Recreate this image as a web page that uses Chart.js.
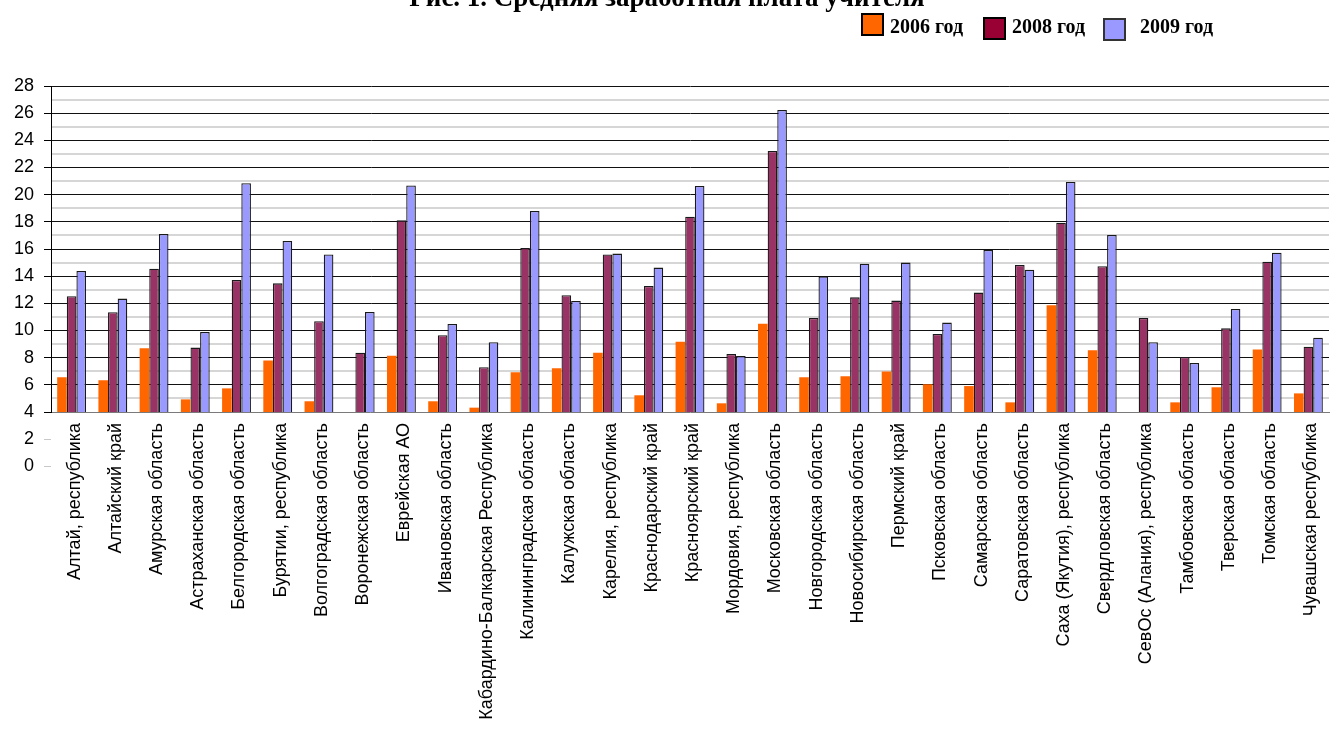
<!DOCTYPE html>
<html>
<head>
<meta charset="utf-8">
<script src="https://cdn.jsdelivr.net/npm/chart.js@4/dist/chart.umd.min.js"></script>
<style>
  html, body { margin: 0; padding: 0; background: #fff; overflow: hidden; }
  #wrap { position: relative; width: 1341px; height: 731px; }
</style>
</head>
<body>
<div id="wrap"><canvas id="c" width="1341" height="731"></canvas></div>
<script>
// Regions (categories)
const regions = [
  'Алтай, республика', 'Алтайский край', 'Амурская область', 'Астраханская область',
  'Белгородская область', 'Бурятии, республика', 'Волгоградская область', 'Воронежская область',
  'Еврейская АО', 'Ивановская область', 'Кабардино-Балкарская Республика', 'Калининградская область',
  'Калужская область', 'Карелия, республика', 'Краснодарский край', 'Красноярский край',
  'Мордовия, республика', 'Московская область', 'Новгородская область', 'Новосибирская область',
  'Пермский край', 'Псковская область', 'Самарская область', 'Саратовская область',
  'Саха (Якутия), республика', 'Свердловская область', 'СевОс (Алания), республика', 'Тамбовская область',
  'Тверская область', 'Томская область', 'Чувашская республика'
];

// Average teacher salary, thousand roubles
const salary2006 = [
  6.55, 6.33, 8.69, 4.93, 5.74, 7.80, 4.79, null, 8.15, 4.79, 4.32, 6.92,
  7.22, 8.37, 5.23, 9.18, 4.64, 10.50, 6.55, 6.63, 6.99, 6.04, 5.91, 4.71,
  11.85, 8.54, null, 4.71, 5.82, 8.61, 5.37
];
const salary2008 = [
  12.52, 11.34, 14.55, 8.74, 13.72, 13.47, 10.68, 8.37, 18.11, 9.65, 7.29, 16.08,
  12.59, 15.59, 13.28, 18.38, 8.27, 23.22, 10.92, 12.44, 12.20, 9.74, 12.79, 14.82,
  17.94, 14.73, 10.92, 8.05, 10.16, 15.07, 8.81
];
const salary2009 = [
  14.38, 12.35, 17.10, 9.89, 20.84, 16.59, 15.59, 11.36, 20.67, 10.48, 9.13, 18.80,
  12.17, 15.66, 14.63, 20.64, 8.12, 26.24, 13.97, 14.92, 15.00, 10.58, 15.93, 14.48,
  20.94, 17.03, 9.13, 7.61, 11.58, 15.73, 9.47
];

const seriesNames = ['2006 год', '2008 год', '2009 год'];
const yTickLabels = [0, 2, 4, 6, 8, 10, 12, 14, 16, 18, 20, 22, 24, 26, 28];
const chartTitle = 'Рис. 1. Средняя заработная плата учителя';

const barColors = ['#FF6600', '#993366', '#9999FF'];
const legendColors = ['#FF6600', '#990033', '#9999FF'];

// Title and legend drawn directly on the canvas
const headerPlugin = {
  id: 'header',
  afterDraw(chart) {
    const ctx = chart.ctx;
    ctx.save();
    ctx.fillStyle = '#000';
    ctx.textBaseline = 'alphabetic';
    ctx.textAlign = 'center';
    ctx.font = 'bold 27px "Liberation Serif", "Times New Roman", serif';
    ctx.fillText(chartTitle, 667, 6);

    const items = [
      { box: [861, 13], text: 890 },
      { box: [983, 17], text: 1012 },
      { box: [1103, 18], text: 1140 }
    ];
    ctx.textAlign = 'left';
    ctx.font = 'bold 20px "Liberation Serif", "Times New Roman", serif';
    seriesNames.forEach((name, i) => {
      const it = items[i];
      ctx.fillStyle = legendColors[i];
      ctx.fillRect(it.box[0], it.box[1], 23, 23);
      ctx.lineWidth = 2;
      ctx.strokeStyle = i === 2 ? '#333' : '#000';
      ctx.strokeRect(it.box[0] + 1, it.box[1] + 1, 21, 21);
      ctx.fillStyle = '#000';
      ctx.fillText(name, it.text, 33);
    });
    ctx.restore();
  }
};

const datasets = [salary2006, salary2008, salary2009].map((values, i) => ({
  label: seriesNames[i],
  data: values,
  backgroundColor: barColors[i],
  borderColor: '#1a1a1a',
  borderWidth: i === 0 ? 0 : 1.3,
  borderSkipped: 'start',
  categoryPercentage: 0.7,
  barPercentage: 1.0
}));

new Chart(document.getElementById('c'), {
  type: 'bar',
  data: { labels: regions, datasets },
  plugins: [headerPlugin],
  options: {
    responsive: false,
    animation: false,
    devicePixelRatio: 1,
    layout: { padding: { top: 86, right: 0, left: 0, bottom: 0 } },
    plugins: {
      legend: { display: false },
      title: { display: false },
      tooltip: { enabled: false }
    },
    scales: {
      x: {
        grid: { display: false, drawTicks: false },
        border: { display: true, color: '#7a7a7a', width: 1 },
        ticks: {
          autoSkip: false,
          minRotation: 90,
          maxRotation: 90,
          padding: 11,
          labelOffset: 3,
          color: '#000',
          font: { family: '"Liberation Sans", Arial, sans-serif', size: 18 }
        },
        afterFit(scale) { scale.height = 319; }
      },
      y: {
        min: 4,
        max: 28,
        afterBuildTicks(scale) {
          const ticks = [];
          for (let v = 0; v <= 28; v++) ticks.push({ value: v });
          scale.ticks = ticks;
        },
        afterFit(scale) { scale.width = 51; },
        grid: {
          drawTicks: true,
          tickLength: 7,
          lineWidth: (ctx) => (ctx.tick && ctx.tick.value % 2 === 1 ? 2 : 1),
          color: (ctx) => {
            const v = ctx.tick ? ctx.tick.value : 0;
            if (v <= 4) return 'rgba(0,0,0,0)';
            return v % 2 === 0 ? '#111' : '#d6d6d6';
          },
          tickColor: (ctx) => {
            const v = ctx.tick ? ctx.tick.value : 0;
            if (v % 2 === 1) return 'rgba(0,0,0,0)';
            return v < 4 ? '#c8c8c8' : '#000';
          }
        },
        border: { display: true, color: '#000', width: 1 },
        ticks: {
          autoSkip: false,
          padding: 10,
          color: '#000',
          font: { family: '"Liberation Sans", Arial, sans-serif', size: 18 },
          callback: (value) => (yTickLabels.includes(value) ? String(value) : '')
        }
      }
    }
  }
});
</script>
</body>
</html>
